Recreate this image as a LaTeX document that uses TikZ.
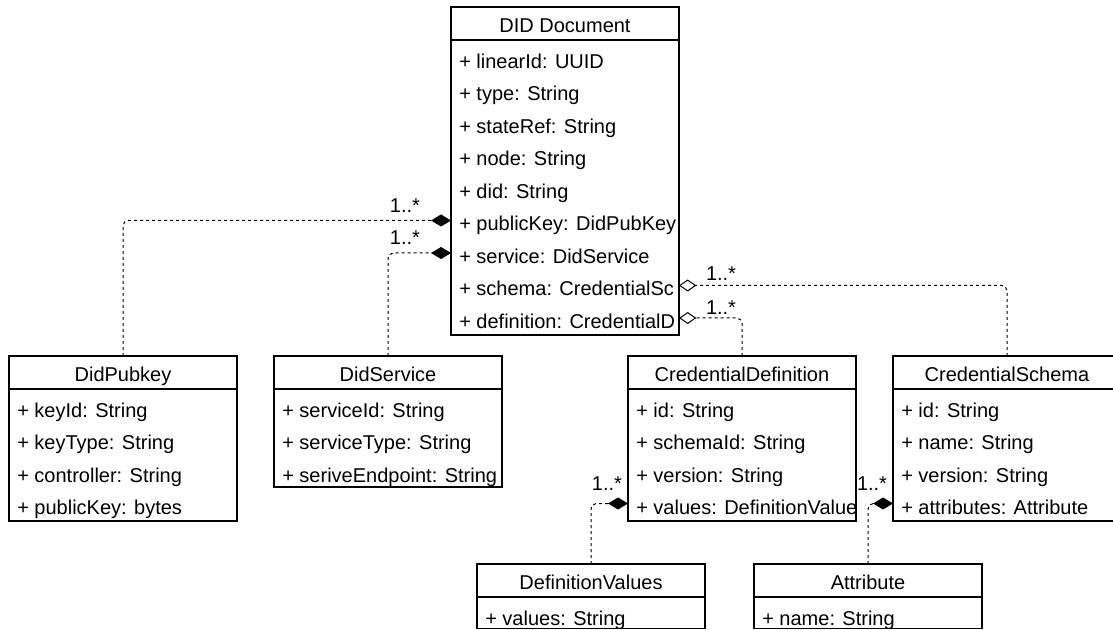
\documentclass[tikz,border=0pt]{standalone}
\usepackage{fontspec}
\setmainfont{Liberation Sans}
\usepackage{tikz}
\usetikzlibrary{arrows.meta, calc, positioning}
\tikzstyle{classhead} = [draw, line width=0.9pt, anchor=north west, minimum width=171pt, minimum height=24.75pt, inner sep=0pt, outer sep=0pt, text height=14pt, text depth=0pt, font=\fontsize{15}{18}\selectfont]
\tikzstyle{classbody} = [draw, line width=0.9pt, anchor=north west, minimum width=171pt, inner sep=0pt, outer sep=0pt]
\tikzstyle{attr} = [anchor=west, inner sep=0pt, text height=10.7pt, text depth=0pt, font=\fontsize{15}{18}\selectfont]
\tikzstyle{mult} = [inner sep=0pt, text height=10.7pt, text depth=0pt, font=\fontsize{15}{18}\selectfont]
\tikzstyle{assoc} = [line width=0.75pt, dash pattern=on 2.25pt off 2.25pt, rounded corners=4pt]
\tikzstyle{comp} = [assoc, -{Diamond[length=15pt, width=9pt]}]
\tikzstyle{aggr} = [assoc, -{Diamond[open, fill=white, length=13pt, width=9pt]}]

\begin{document}
\begin{tikzpicture}[x=0.75pt, y=-0.75pt]
\clip (0,0) rectangle (1113,630);

% DID document
\node[classhead] (doc) at (451,7) {DID Document};
\node[classbody, minimum height=221.25pt] (docbody) at (doc.south west) {};
\begin{scope}
\clip (docbody.north west) rectangle (docbody.south east);
\node[attr] (doc1) at ($(doc.south west)+(8,21)$) {+ linearId: UUID};
\node[attr] (doc2) at ($(doc1.west)+(0,32.5)$) {+ type: String};
\node[attr] (doc3) at ($(doc2.west)+(0,32.5)$) {+ stateRef: String};
\node[attr] (doc4) at ($(doc3.west)+(0,32.5)$) {+ node: String};
\node[attr] (doc5) at ($(doc4.west)+(0,32.5)$) {+ did: String};
\node[attr] (doc6) at ($(doc5.west)+(0,32.5)$) {+ publicKey: DidPubKey};
\node[attr] (doc7) at ($(doc6.west)+(0,32.5)$) {+ service: DidService};
\node[attr] (doc8) at ($(doc7.west)+(0,32.5)$) {+ schema: CredentialSc};
\node[attr] (doc9) at ($(doc8.west)+(0,32.5)$) {+ definition: CredentialD};
\end{scope}

% DidPubkey
\node[classhead] (pubkey) at (9,356) {DidPubkey};
\node[classbody, minimum height=99pt] (pubkeybody) at (pubkey.south west) {};
\node[attr] (pubkey1) at ($(pubkey.south west)+(8,21)$) {+ keyId: String};
\node[attr] (pubkey2) at ($(pubkey1.west)+(0,32.5)$) {+ keyType: String};
\node[attr] (pubkey3) at ($(pubkey2.west)+(0,32.5)$) {+ controller: String};
\node[attr] (pubkey4) at ($(pubkey3.west)+(0,32.5)$) {+ publicKey: bytes};

% DidService
\node[classhead] (service) at (274,356) {DidService};
\node[classbody, minimum height=73.5pt] (servicebody) at (service.south west) {};
\node[attr] (service1) at ($(service.south west)+(8,21)$) {+ serviceId: String};
\node[attr] (service2) at ($(service1.west)+(0,32.5)$) {+ serviceType: String};
\node[attr] (service3) at ($(service2.west)+(0,32.5)$) {+ seriveEndpoint: String};

% CredentialDefinition
\node[classhead] (creddef) at (628,356) {CredentialDefinition};
\node[classbody, minimum height=99pt] (creddefbody) at (creddef.south west) {};
\begin{scope}
\clip (creddefbody.north west) rectangle (creddefbody.south east);
\node[attr] (creddef1) at ($(creddef.south west)+(8,21)$) {+ id: String};
\node[attr] (creddef2) at ($(creddef1.west)+(0,32.5)$) {+ schemaId: String};
\node[attr] (creddef3) at ($(creddef2.west)+(0,32.5)$) {+ version: String};
\node[attr] (creddef4) at ($(creddef3.west)+(0,32.5)$) {+ values: DefinitionValue};
\end{scope}

% CredentialSchema
\node[classhead] (credschema) at (893,356) {CredentialSchema};
\node[classbody, minimum height=99pt] (credschemabody) at (credschema.south west) {};
\node[attr] (credschema1) at ($(credschema.south west)+(8,21)$) {+ id: String};
\node[attr] (credschema2) at ($(credschema1.west)+(0,32.5)$) {+ name: String};
\node[attr] (credschema3) at ($(credschema2.west)+(0,32.5)$) {+ version: String};
\node[attr] (credschema4) at ($(credschema3.west)+(0,32.5)$) {+ attributes: Attribute};

% DefinitionValues and Attribute
\node[classhead] (defvalues) at (477,564) {DefinitionValues};
\node[classbody, minimum height=23.5pt] (defvaluesbody) at (defvalues.south west) {};
\node[attr] (defvalues1) at ($(defvalues.south west)+(8,21)$) {+ values: String};

\node[classhead] (attribute) at (754,564) {Attribute};
\node[classbody, minimum height=23.5pt] (attributebody) at (attribute.south west) {};
\node[attr] (attribute1) at ($(attribute.south west)+(8,21)$) {+ name: String};

% connectors
\draw[comp] (pubkey.north) |- ($(doc6.west -| doc.west)+(0,-3)$);
\draw[comp] (service.north) |- ($(doc7.west -| doc.west)+(0,-3)$);
\draw[aggr] (credschema.north) |- ($(doc8.west -| doc.east)+(0,-3)$);
\draw[aggr] (creddef.north) |- ($(doc9.west -| doc.east)+(0,-3)$);
\draw[comp] (defvalues.north) |- ($(creddef4.west -| creddef.west)+(0,-4)$);
\draw[comp] (attribute.north) |- ($(credschema4.west -| credschema.west)+(0,-4)$);

\node[mult] (pubkeymult) at ($(doc6.west -| doc.west)+(-46,-18.5)$) {1..*};
\node[mult] (servicemult) at ($(doc7.west -| doc.west)+(-46,-19)$) {1..*};
\node[mult] (credschemamult) at ($(doc8.west -| doc.east)+(42,-15.5)$) {1..*};
\node[mult] (creddefmult) at ($(doc9.west -| doc.east)+(42,-14)$) {1..*};
\node[mult] (defvaluesmult) at ($(creddef4.west -| creddef.west)+(-21,-24.5)$) {1..*};
\node[mult] (attributemult) at ($(credschema4.west -| credschema.west)+(-21,-24.5)$) {1..*};
\end{tikzpicture}
\end{document}
